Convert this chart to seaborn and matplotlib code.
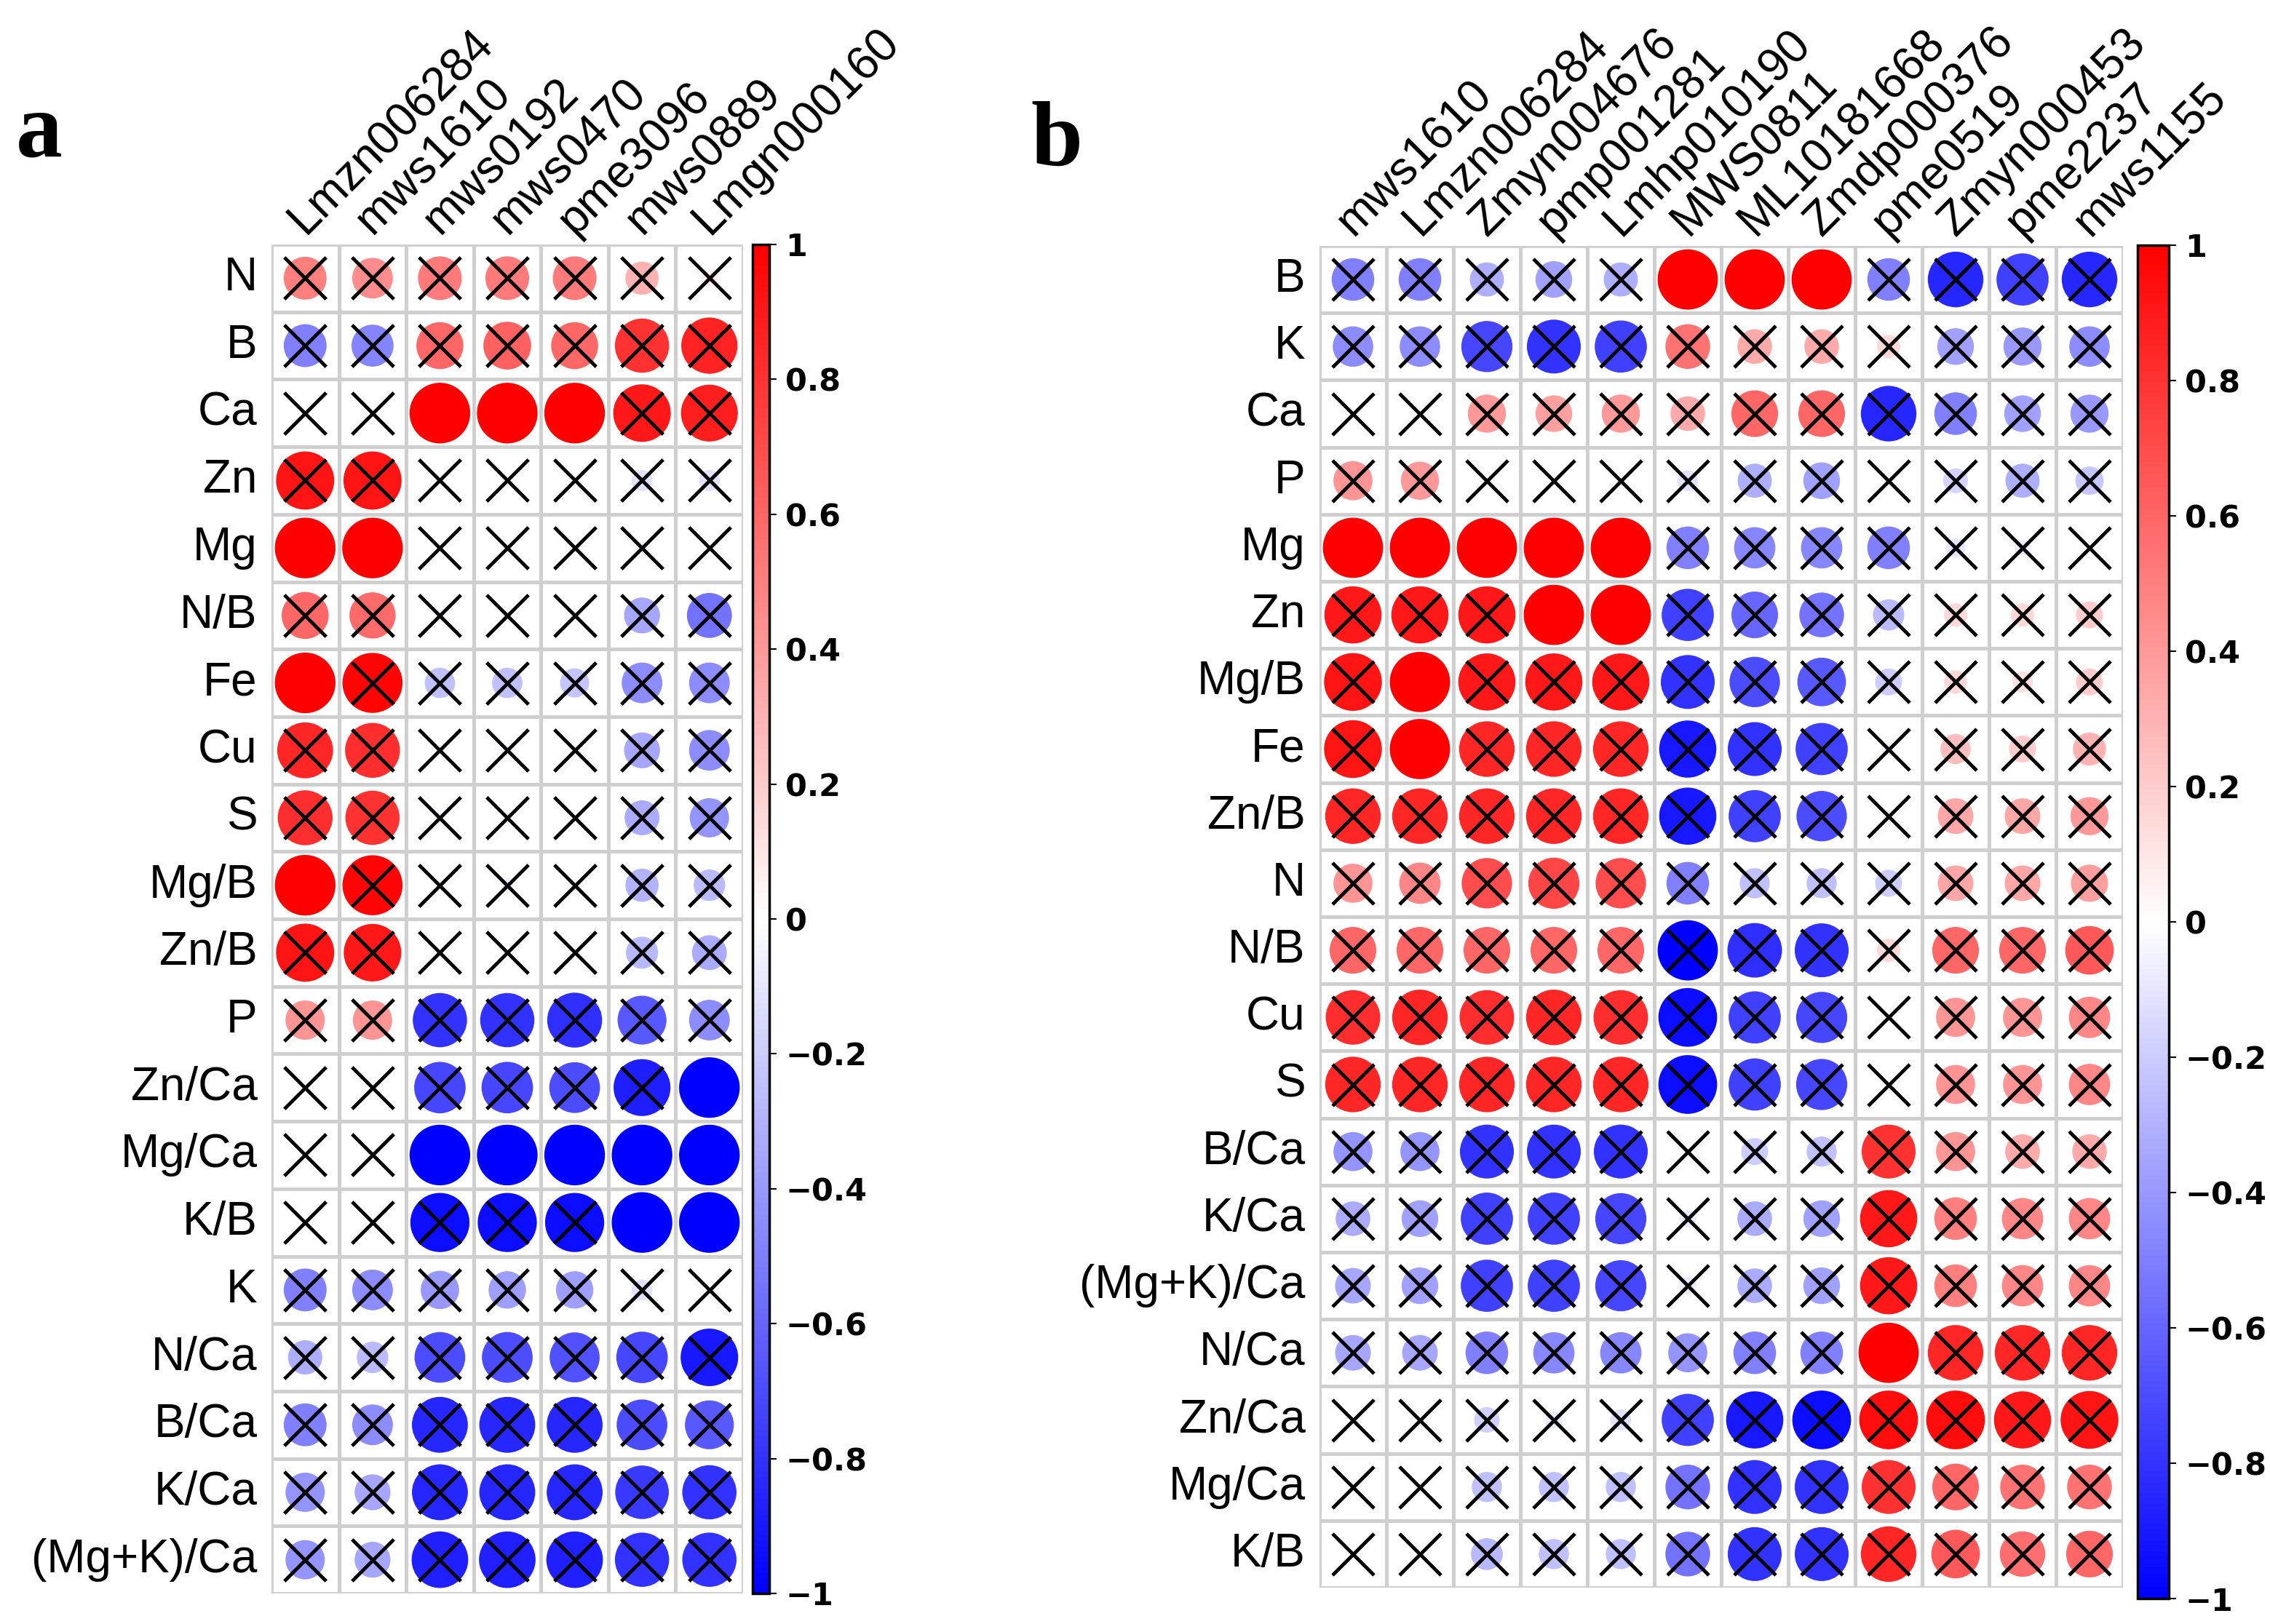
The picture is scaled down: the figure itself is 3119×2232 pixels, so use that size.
import numpy as np
import pandas as pd
import matplotlib
matplotlib.use("Agg")
import matplotlib.pyplot as plt
from matplotlib.colors import LinearSegmentedColormap, ListedColormap, Normalize
from matplotlib.cm import ScalarMappable
import seaborn as sns

# ---------------- Panel a data ----------------
rows_a = ["N", "B", "Ca", "Zn", "Mg", "N/B", "Fe", "Cu", "S", "Mg/B", "Zn/B", "P",
          "Zn/Ca", "Mg/Ca", "K/B", "K", "N/Ca", "B/Ca", "K/Ca", "(Mg+K)/Ca"]
cols_a = ["Lmzn006284", "mws1610", "mws0192", "mws0470", "pme3096", "mws0889", "Lmgn000160"]

a_Lmzn006284 = [0.5, -0.5, 0.0, 0.92, 1.0, 0.6, 1.0, 0.85, 0.82, 1.0, 0.92, 0.42, 0.0, 0.02, 0.0, -0.5, -0.32, -0.5, -0.42, -0.42]
a_mws1610 = [0.45, -0.48, 0.0, 0.92, 1.0, 0.58, 0.98, 0.82, 0.8, 0.98, 0.9, 0.42, 0.0, 0.05, 0.0, -0.45, -0.27, -0.45, -0.35, -0.35]
a_mws0192 = [0.52, 0.6, 1.0, 0.0, 0.0, -0.04, -0.25, -0.03, -0.04, -0.03, 0.0, -0.8, -0.72, -1.0, -0.95, -0.4, -0.7, -0.85, -0.85, -0.87]
a_mws0470 = [0.52, 0.62, 1.0, 0.0, 0.0, -0.04, -0.25, -0.03, -0.03, -0.05, 0.0, -0.8, -0.72, -1.0, -0.95, -0.38, -0.7, -0.85, -0.85, -0.87]
a_pme3096 = [0.52, 0.6, 1.0, 0.0, 0.0, -0.03, -0.23, -0.03, 0.0, -0.04, -0.03, -0.82, -0.7, -1.0, -0.95, -0.38, -0.68, -0.85, -0.85, -0.87]
a_mws0889 = [0.3, 0.8, 0.9, -0.12, -0.05, -0.35, -0.45, -0.35, -0.33, -0.3, -0.28, -0.65, -0.88, -1.0, -1.0, -0.12, -0.72, -0.7, -0.78, -0.8]
a_Lmgn000160 = [0.07, 0.86, 0.88, -0.12, 0.0, -0.55, -0.45, -0.45, -0.42, -0.27, -0.33, -0.45, -1.0, -1.0, -1.0, 0.0, -0.9, -0.65, -0.8, -0.8]
vals_a = [a_Lmzn006284, a_mws1610, a_mws0192, a_mws0470, a_pme3096, a_mws0889, a_Lmgn000160]

# cells without the "X" mark in panel a
sig_a = [("Ca", "mws0192"), ("Ca", "mws0470"), ("Ca", "pme3096"),
         ("Mg", "Lmzn006284"), ("Mg", "mws1610"),
         ("Fe", "Lmzn006284"), ("Mg/B", "Lmzn006284"),
         ("Zn/Ca", "Lmgn000160"),
         ("Mg/Ca", "mws0192"), ("Mg/Ca", "mws0470"), ("Mg/Ca", "pme3096"),
         ("Mg/Ca", "mws0889"), ("Mg/Ca", "Lmgn000160"),
         ("K/B", "mws0889"), ("K/B", "Lmgn000160")]

# ---------------- Panel b data ----------------
rows_b = ["B", "K", "Ca", "P", "Mg", "Zn", "Mg/B", "Fe", "Zn/B", "N", "N/B", "Cu", "S",
          "B/Ca", "K/Ca", "(Mg+K)/Ca", "N/Ca", "Zn/Ca", "Mg/Ca", "K/B"]
cols_b = ["mws1610", "Lmzn006284", "Zmyn004676", "pmp001281", "Lmhp010190", "MWS0811",
          "ML10181668", "Zmdp000376", "pme0519", "Zmyn000453", "pme2237", "mws1155"]

b_mws1610 = [-0.5, -0.45, 0.0, 0.42, 1.0, 0.9, 0.92, 0.92, 0.85, 0.42, 0.6, 0.82, 0.85, -0.42, -0.33, -0.35, -0.35, 0.0, 0.02, 0.0]
b_Lmzn006284 = [-0.5, -0.45, 0.0, 0.4, 1.0, 0.9, 1.0, 1.0, 0.85, 0.47, 0.6, 0.85, 0.85, -0.42, -0.37, -0.37, -0.35, 0.0, 0.02, 0.0]
b_Zmyn004676 = [-0.32, -0.72, 0.4, 0.0, 1.0, 0.9, 0.9, 0.85, 0.85, 0.7, 0.6, 0.82, 0.85, -0.8, -0.75, -0.75, -0.5, -0.18, -0.25, -0.28]
b_pmp001281 = [-0.37, -0.8, 0.37, 0.0, 1.0, 1.0, 0.9, 0.85, 0.85, 0.72, 0.6, 0.85, 0.85, -0.8, -0.75, -0.75, -0.47, -0.08, -0.25, -0.25]
b_Lmhp010190 = [-0.32, -0.75, 0.4, 0.0, 1.0, 1.0, 0.9, 0.85, 0.85, 0.7, 0.6, 0.82, 0.85, -0.8, -0.72, -0.72, -0.47, -0.12, -0.25, -0.25]
b_MWS0811 = [1.0, 0.55, 0.33, -0.12, -0.5, -0.75, -0.8, -0.9, -0.9, -0.5, -1.0, -0.95, -0.95, 0.0, -0.08, -0.08, -0.42, -0.75, -0.55, -0.55]
b_ML10181668 = [1.0, 0.33, 0.6, -0.32, -0.47, -0.6, -0.7, -0.8, -0.75, -0.25, -0.82, -0.75, -0.75, -0.2, -0.33, -0.33, -0.5, -0.9, -0.8, -0.8]
b_Zmdp000376 = [1.0, 0.33, 0.6, -0.37, -0.47, -0.55, -0.65, -0.75, -0.7, -0.25, -0.8, -0.72, -0.72, -0.25, -0.37, -0.37, -0.5, -0.95, -0.8, -0.8]
b_pme0519 = [-0.5, 0.15, -0.85, 0.03, -0.5, -0.27, -0.2, -0.05, -0.04, -0.2, 0.15, 0.0, 0.0, 0.8, 0.9, 0.9, 1.0, 0.95, 0.8, 0.85]
b_Zmyn000453 = [-0.85, -0.37, -0.5, -0.17, -0.1, 0.15, 0.15, 0.25, 0.35, 0.35, 0.6, 0.42, 0.42, 0.42, 0.5, 0.5, 0.85, 0.95, 0.6, 0.65]
b_pme2237 = [-0.75, -0.4, -0.37, -0.32, -0.07, 0.15, 0.12, 0.2, 0.35, 0.35, 0.6, 0.42, 0.42, 0.33, 0.47, 0.47, 0.85, 0.9, 0.55, 0.57]
b_mws1155 = [-0.85, -0.45, -0.4, -0.22, 0.0, 0.2, 0.2, 0.3, 0.4, 0.38, 0.65, 0.47, 0.47, 0.33, 0.47, 0.47, 0.85, 0.92, 0.55, 0.6]
vals_b = [b_mws1610, b_Lmzn006284, b_Zmyn004676, b_pmp001281, b_Lmhp010190, b_MWS0811,
          b_ML10181668, b_Zmdp000376, b_pme0519, b_Zmyn000453, b_pme2237, b_mws1155]

sig_b = [("B", "MWS0811"), ("B", "ML10181668"), ("B", "Zmdp000376"),
         ("Mg", "mws1610"), ("Mg", "Lmzn006284"), ("Mg", "Zmyn004676"),
         ("Mg", "pmp001281"), ("Mg", "Lmhp010190"),
         ("Zn", "pmp001281"), ("Zn", "Lmhp010190"),
         ("Mg/B", "Lmzn006284"), ("Fe", "Lmzn006284"),
         ("N/Ca", "pme0519")]

cbar_ticks = [-1, -0.8, -0.6, -0.4, -0.2, 0, 0.2, 0.4, 0.6, 0.8, 1]
cbar_labels = ["\u22121", "\u22120.8", "\u22120.6", "\u22120.4", "\u22120.2", "0",
               "0.2", "0.4", "0.6", "0.8", "1"]

# ---------------- Styling ----------------
sns.set_style("white")
plt.rcParams["font.family"] = ["Liberation Sans", "DejaVu Sans"]
plt.rcParams["text.color"] = "black"
plt.rcParams["xtick.color"] = "black"
plt.rcParams["ytick.color"] = "black"
plt.rcParams["xtick.labelcolor"] = "black"
plt.rcParams["ytick.labelcolor"] = "black"

W, H = 3119, 2232
DPI = 100
fig = plt.figure(figsize=(W / DPI, H / DPI), dpi=DPI)

cmap = LinearSegmentedColormap.from_list("bwr_corr", ["#0000FF", "#FFFFFF", "#FF0000"])
norm = Normalize(-1, 1)


def px_box(x0, y0, x1, y1):
    return [x0 / W, 1 - y1 / H, (x1 - x0) / W, (y1 - y0) / H]


def draw_panel(ax_box, cax_box, rows, cols, vals, sig, letter, letter_xy):
    ax = fig.add_axes(px_box(*ax_box))
    nr, nc = len(rows), len(cols)
    recs = []
    sig_set = set(sig)
    for j, c in enumerate(cols):
        for i, r in enumerate(rows):
            v = vals[j][i]
            recs.append({"row": r, "col": c, "x": j + 0.5, "y": i + 0.5,
                         "r": v, "absr": abs(v), "sig": (r, c) in sig_set})
    df = pd.DataFrame(recs)

    # grid via heatmap (white cells, grey lines)
    grid = pd.DataFrame(np.zeros((nr, nc)), index=rows, columns=cols)
    sns.heatmap(grid, ax=ax, cmap=ListedColormap(["white"]), cbar=False,
                linewidths=2.2, linecolor="#cfcfcf", xticklabels=cols, yticklabels=rows)

    cell_pt = (ax_box[2] - ax_box[0]) / nc * 72 / DPI
    smax = (0.9 * cell_pt) ** 2
    sns.scatterplot(data=df, x="x", y="y", hue="r", palette=cmap, hue_norm=(-1, 1),
                    size="absr", sizes=(0, smax), size_norm=(0, 1),
                    linewidth=0, legend=False, ax=ax, zorder=3)
    insig = df[~df["sig"]]
    sns.scatterplot(data=insig, x="x", y="y", marker="x", s=(0.62 * cell_pt) ** 2,
                    color="black", linewidth=3.5, legend=False, ax=ax, zorder=4)
    ax.set_xlim(0, nc)
    ax.set_ylim(nr, 0)
    ax.set_xlabel("")
    ax.set_ylabel("")

    ax.xaxis.tick_top()
    ax.set_xticks(np.arange(nc) + 0.5)
    ax.set_xticklabels(cols, rotation=45, ha="left", va="baseline",
                       rotation_mode="anchor", fontsize=46, color="black")
    ax.set_yticks(np.arange(nr) + 0.5)
    ax.set_yticklabels(rows, rotation=0, fontsize=46, color="black")
    ax.tick_params(axis="x", length=0, pad=9)
    ax.tick_params(axis="y", length=0, pad=14)
    for s in ax.spines.values():
        s.set_visible(False)

    cax = fig.add_axes(px_box(*cax_box))
    cb = fig.colorbar(ScalarMappable(norm=norm, cmap=cmap), cax=cax, ticks=cbar_ticks)
    cb.ax.set_yticklabels(cbar_labels)
    for t in cb.ax.get_yticklabels():
        t.set_fontfamily("DejaVu Sans")
        t.set_fontweight("bold")
        t.set_fontsize(31)
        t.set_color("black")
    cb.ax.tick_params(length=7, width=1.5, pad=9, color="black")
    cb.outline.set_linewidth(2.5)
    cb.outline.set_edgecolor("black")

    fig.text(letter_xy[0] / W, 1 - letter_xy[1] / H, letter, fontsize=92,
             fontweight="bold", family=["Liberation Serif", "DejaVu Serif"],
             color="black", ha="left", va="baseline")
    return ax


draw_panel((373, 336, 1021, 2190), (1034, 336, 1057, 2190),
           rows_a, cols_a, vals_a, sig_a, "a", (22, 215))
draw_panel((1813, 338, 2917, 2182), (2937, 337, 2980, 2197),
           rows_b, cols_b, vals_b, sig_b, "b", (1416, 227))

fig.savefig("out.png", dpi=DPI, facecolor="white")
